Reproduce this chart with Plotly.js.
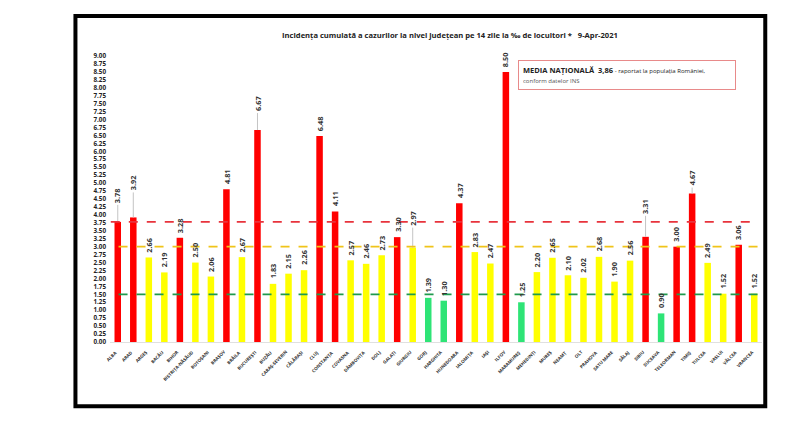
<!DOCTYPE html>
<html>
<head>
<meta charset="utf-8">
<script src="https://cdn.plot.ly/plotly-3.0.1.min.js"></script>
<style>
  body { margin: 0; background: #fff; }
  #chart { width: 800px; height: 428px; }
</style>
</head>
<body>
<div id="chart"></div>
<script>
// judete, in ordinea din grafic
var counties = ["ALBA", "ARAD", "ARGEȘ", "BACĂU", "BIHOR", "BISTRIȚA-NĂSĂUD", "BOTOȘANI", "BRAȘOV",
	"BRĂILA", "BUCUREȘTI", "BUZĂU", "CARAȘ-SEVERIN", "CĂLĂRAȘI", "CLUJ", "CONSTANȚA", "COVASNA",
	"DÂMBOVIȚA", "DOLJ", "GALAȚI", "GIURGIU", "GORJ", "HARGHITA", "HUNEDOARA", "IALOMIȚA", "IAȘI",
	"ILFOV", "MARAMUREȘ", "MEHEDINȚI", "MUREȘ", "NEAMȚ", "OLT", "PRAHOVA", "SATU MARE", "SĂLAJ",
	"SIBIU", "SUCEAVA", "TELEORMAN", "TIMIȘ", "TULCEA", "VASLUI", "VÂLCEA", "VRANCEA"];

var incidence = [3.78, 3.92, 2.66, 2.19, 3.28, 2.50, 2.06, 4.81,
	2.67, 6.67, 1.83, 2.15, 2.26, 6.48, 4.11, 2.57,
	2.46, 2.73, 3.30, 2.97, 1.39, 1.30, 4.37, 2.83, 2.47,
	8.50, 1.25, 2.20, 2.65, 2.10, 2.02, 2.68, 1.90, 2.56,
	3.31, 0.90, 3.00, 4.67, 2.49, 1.52, 3.06, 1.52];

// pragurile (liniile punctate) si media nationala
var levels = [3.78, 3.00, 1.50];
var nationalAvg = "3,86";

// eticheta ridicata cu linie de legatura (px)
var liftedLabels = { "ALBA": 17, "ARAD": 25, "BUCUREȘTI": 17, "GIURGIU": 20, "SIBIU": 21, "TIMIȘ": 6 };

var barColor = function (v) {
	if (v >= 3) return "#ff0000";
	if (v >= 1.5) return "#ffff00";
	return "#2ee476";
};

var xs = counties.map(function (c, i) { return i; });

var bars = {
	type: "bar",
	x: xs,
	y: incidence,
	width: 0.42,
	marker: { color: incidence.map(barColor) },
	hoverinfo: "x+y"
};

var annotations = [];
var shapes = [];

incidence.forEach(function (v, i) {
	var lift = liftedLabels[counties[i]] || 3;
	annotations.push({
		x: i, y: v, xref: "x", yref: "y",
		text: "<b>" + v.toFixed(2) + "</b>",
		textangle: -90,
		font: { family: "Open Sans", size: 7.3, color: "#333" },
		xanchor: "center", yanchor: "bottom",
		showarrow: false, yshift: lift
	});
	if (liftedLabels[counties[i]]) {
		// linie de legatura gri intre bara si eticheta
		shapes.push({
			type: "line", xref: "x", yref: "y",
			ysizemode: "pixel", yanchor: v,
			x0: i, x1: i, y0: 0, y1: lift,
			line: { color: "#c4c4c4", width: 1 }
		});
	}
	// numele judetului, rotit
	annotations.push({
		x: i, y: 0, xref: "x", yref: "y",
		text: "<b>" + counties[i] + "</b>",
		textangle: -45,
		font: { family: "Open Sans", size: 4.5, color: "#333" },
		xanchor: "right", yanchor: "top",
		xshift: 3, yshift: -4,
		showarrow: false
	});
});

// caseta media nationala
annotations.push({
	xref: "paper", yref: "paper",
	x: 0.625, y: 0.985, xanchor: "left", yanchor: "top",
	showarrow: false, align: "left",
	text: "<b>MEDIA NAȚIONALĂ  " + nationalAvg + "</b><span style='font-size:6px'> - raportat la populația României,</span><br><span style='font-size:6px;color:#555'>conform datelor INS</span>",
	font: { family: "Open Sans", size: 7.5, color: "#222" },
	bordercolor: "#e88a8a", borderwidth: 1, borderpad: 4,
	bgcolor: "#fff", width: 208
});

var lineColors = ["#e8333c", "#f0c419", "#1f9a4d"];
var lineStarts = [-0.45, 0.05, 0.05];
var lineEnds = [41.0, 41.5, 41.5];
levels.forEach(function (lv, k) {
	shapes.push({
		type: "line", xref: "x", yref: "y",
		x0: lineStarts[k], x1: lineEnds[k], y0: lv, y1: lv,
		line: { color: lineColors[k], width: 1.6, dash: "dash" },
		layer: "above"
	});
});

// rama neagra
shapes.push({
	type: "rect", xref: "paper", yref: "paper",
	x0: -0.053, x1: 1.005, y0: -0.225, y1: 1.14,
	line: { color: "#000", width: 4 }
});

var layout = {
	width: 800, height: 428,
	margin: { l: 110, r: 38, t: 56, b: 86 },
	paper_bgcolor: "#fff",
	plot_bgcolor: "#fff",
	showlegend: false,
	title: {
		text: "<b>Incidența cumulată a cazurilor la nivel județean pe 14 zile la ‰ de locuitori *   9-Apr-2021</b>",
		font: { family: "Open Sans", size: 7.6, color: "#222" },
		x: 0.5625, xanchor: "center",
		y: 0.918, yanchor: "middle"
	},
	xaxis: {
		range: [-0.5, 41.5],
		showticklabels: false,
		showgrid: false, zeroline: false,
		showline: true, linecolor: "#e0e0e0", linewidth: 1,
		ticks: "", fixedrange: true
	},
	yaxis: {
		range: [0, 9],
		tick0: 0, dtick: 0.25,
		tickformat: ".2f",
		tickfont: { family: "Open Sans", size: 6.3, color: "#222", weight: "bold" },
		ticklabelstandoff: 3,
		showgrid: false, zeroline: false, showline: false,
		ticks: "", fixedrange: true
	},
	annotations: annotations,
	shapes: shapes
};

Plotly.newPlot("chart", [bars], layout, { displayModeBar: false, staticPlot: true });
</script>
</body>
</html>
